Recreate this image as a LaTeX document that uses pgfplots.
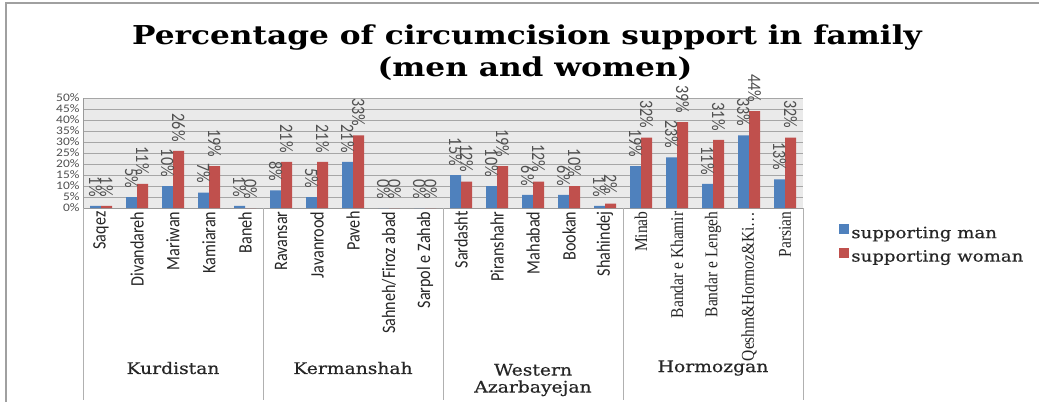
\documentclass[border=0pt]{standalone}
\usepackage{fontspec}
\usepackage{pgfplots}
\usepackage{pgfplotstable}
\pgfplotsset{compat=1.18}
\setmainfont{DejaVu Serif}
\newfontfamily\ttlfont[FakeStretch=1.2]{DejaVu Serif}
\newfontfamily\wserif[FakeStretch=1.17,FakeBold=0.5]{DejaVu Serif}
\newfontfamily\calrot[FakeStretch=0.85]{Carlito}
\newfontfamily\timesrot[FakeStretch=0.86]{Liberation Serif}
\newfontfamily\calh[FakeStretch=1.17]{Carlito}
\definecolor{cblue}{HTML}{4F81BD}
\definecolor{cred}{HTML}{C0504D}
\definecolor{plotbg}{HTML}{EAEAEA}
\definecolor{gridcol}{HTML}{A6A6A6}
\definecolor{axiscol}{HTML}{9A9A9A}
\definecolor{sepcol}{HTML}{B0B0B0}
\definecolor{labcol}{HTML}{505050}
\definecolor{txtcol}{HTML}{262626}
\definecolor{framecol}{HTML}{A0A0A0}
\newcommand{\kl}[1]{{\calrot\fontsize{19}{19}\selectfont #1}}
\newcommand{\hl}[1]{{\timesrot\fontsize{18}{18}\selectfont #1}}

\pgfplotstableread{
x men women
0 1 1
1 5 11
2 10 26
3 7 19
4 1 0
5 8 21
6 5 21
7 21 33
8 0 0
9 0 0
10 15 12
11 10 19
12 6 12
13 6 10
14 1 2
15 19 32
16 23 39
17 11 31
18 33 44
19 13 32
}\datatable

\begin{document}
\begin{tikzpicture}
\path[use as bounding box] (0,0) rectangle (1039pt,-402pt);
\fill[white] (0,0) rectangle (1039pt,-402pt);
\draw[framecol, line width=1.2pt] (6pt,-402pt) -- (6pt,-3pt) -- (1039pt,-3pt);
\node[font=\ttlfont\bfseries\fontsize{26}{30}\selectfont, text=black, anchor=base] at (527pt,-44pt) {Percentage of circumcision support in family};
\node[font=\ttlfont\bfseries\fontsize{26}{30}\selectfont, text=black, anchor=base] at (535pt,-76pt) {(men and women)};
\begin{axis}[
  at={(83pt,-208pt)}, anchor=south west,
  scale only axis, width=720pt, height=110pt,
  ybar=0pt, bar width=11pt,
  xmin=-0.5, xmax=19.5, ymin=0, ymax=50,
  axis background/.style={fill=plotbg},
  axis lines*=left,
  axis line style={axiscol, line width=1pt},
  ytick={0,5,...,50},
  ymajorgrids, grid style={gridcol, line width=0.8pt},
  /pgf/number format/assume math mode=true,
  yticklabel={\pgfmathprintnumber{\tick}\%},
  yticklabel style={font=\calh\fontsize{11.5}{11.5}\selectfont, text=labcol, inner ysep=0pt},
  xtick={0,...,19},
  xticklabels={\kl{Saqez},\kl{Divandareh},\kl{Mariwan},\kl{Kamiaran},\kl{Baneh},
    \kl{Ravansar},\kl{Javanrood},\kl{Paveh},\kl{Sahneh/Firoz abad},\kl{Sarpol e Zahab},
    \kl{Sardasht},\kl{Piranshahr},\kl{Mahabad},\kl{Bookan},\kl{Shahindej},
    \hl{Minab},\hl{Bandar e Khamir},\hl{Bandar e Lengeh},\hl{Qeshm\&Hormoz\&Ki…},\hl{Parsian}},
  xticklabel style={rotate=90, anchor=east, text=txtcol},
  major tick length=0pt,
  clip=false,
  nodes near coords={\pgfmathprintnumber{\pgfplotspointmeta}\%},
  every node near coord/.append style={rotate=-90, anchor=east, font=\calrot\fontsize{19}{19}\selectfont, text=labcol, inner xsep=9pt},
  legend cell align=left,
  legend style={at={(1.046,-0.127)}, anchor=north west, draw=none, fill=none,
    font=\wserif\fontsize{15.5}{18}\selectfont, text=txtcol, row sep=6pt},
  legend image code/.code={\path[#1,draw=none] (0pt,-1pt) rectangle (10pt,9pt);},
]
\addplot[fill=cblue, draw=none] table[x=x,y=men]{\datatable};
\addplot[fill=cred, draw=none] table[x=x,y=women]{\datatable};
\legend{supporting man, supporting woman}
\pgfplotsinvokeforeach{-0.5,4.5,9.5,14.5,19.5}{
  \draw[sepcol, line width=1pt] (axis cs:#1,0) -- ([yshift=-192pt]axis cs:#1,0);
}
\node[font=\wserif\fontsize{16}{18}\selectfont, text=txtcol] at ([yshift=-160pt]axis cs:2,0) {Kurdistan};
\node[font=\wserif\fontsize{16}{18}\selectfont, text=txtcol] at ([yshift=-160pt]axis cs:7,0) {Kermanshah};
\node[font=\wserif\fontsize{16}{17}\selectfont, text=txtcol, align=center] at ([yshift=-172pt]axis cs:12,0) {Western\\Azarbayejan};
\node[font=\wserif\fontsize{16}{18}\selectfont, text=txtcol] at ([yshift=-160pt]axis cs:17,0) {Hormozgan};
\end{axis}
\end{tikzpicture}
\end{document}
